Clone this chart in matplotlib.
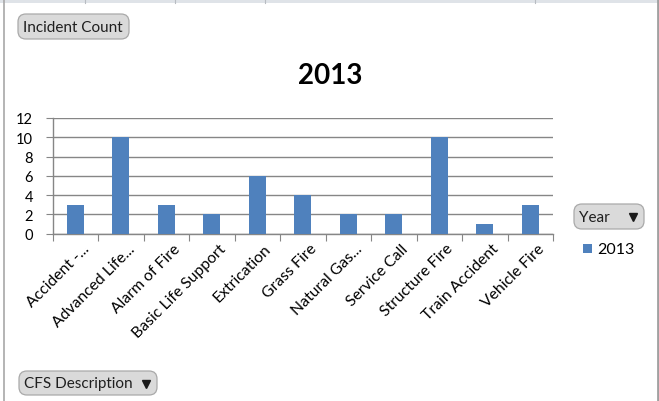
import matplotlib
matplotlib.use("Agg")
import matplotlib.pyplot as plt
from matplotlib.patches import Rectangle, FancyBboxPatch
from matplotlib.lines import Line2D

categories = ["Accident -...", "Advanced Life...", "Alarm of Fire", "Basic Life Support",
              "Extrication", "Grass Fire", "Natural Gas...", "Service Call",
              "Structure Fire", "Train Accident", "Vehicle Fire"]
counts_2013 = [3, 10, 3, 2, 6, 4, 2, 2, 10, 1, 3]
yticks = [0, 2, 4, 6, 8, 10, 12]
series_name = "2013"

W, H = 659, 402
plt.rcParams['font.family'] = ['Lato', 'DejaVu Sans']
fig = plt.figure(figsize=(W / 100, H / 100), dpi=100)
fig.patch.set_facecolor("white")

def px(x, y):
    return x / W, 1 - y / H

# spreadsheet edges
fig.add_artist(Rectangle((0, 1 - 4 / H), 1, 4 / H, transform=fig.transFigure,
                         facecolor="#dfe3e8", edgecolor="none"))
for xx in [85, 175, 265, 535]:
    fig.add_artist(Line2D([xx / W, xx / W], [1 - 4 / H, 1], transform=fig.transFigure,
                          color="#b8bcc2", lw=0.8))
fig.add_artist(Line2D([3.5 / W, 3.5 / W], [0, 1], transform=fig.transFigure, color="#a8a8a8", lw=1.2))
fig.add_artist(Line2D([657.5 / W, 657.5 / W], [0, 1], transform=fig.transFigure, color="#a0a0a0", lw=2))

left, right, top, bottom = 52.5, 553, 119, 234.5
ax = fig.add_axes([left / W, 1 - bottom / H, (right - left) / W, (bottom - top) / H])
n = len(categories)
xs = list(range(n))
ax.bar(xs, counts_2013, width=0.38, color="#4f81bd", zorder=3)
ax.set_xlim(-0.5, n - 0.5)
ax.set_ylim(0, 12)
ax.set_yticks(yticks)
ax.set_yticklabels([str(v) for v in yticks], fontsize=10.5, color="#000000")
ax.grid(axis="y", color="#868686", lw=1, zorder=0)
for s in ["top", "right"]:
    ax.spines[s].set_visible(False)
for s in ["left", "bottom"]:
    ax.spines[s].set_color("#868686")
    ax.spines[s].set_linewidth(1)
ax.tick_params(axis="y", length=5, color="#868686", pad=9)
ax.set_xticks([i - 0.5 for i in range(n + 1)])
ax.set_xticklabels([])
ax.tick_params(axis="x", length=5, color="#868686")
for i, c in enumerate(categories):
    ax.text(i + 0.15, -0.8, c, rotation=45, ha="right", va="top", rotation_mode="anchor",
            fontsize=11.3, color="#000000", transform=ax.transData)

fig.text(*px(330, 76), "2013", ha="center", va="center", fontsize=20, fontweight="bold",
         color="#000000")

def button(x0, y0, x1, y1, label, arrow=False):
    bx, by = px(x0, y1)
    p = FancyBboxPatch((bx, by), (x1 - x0) / W, (y1 - y0) / H,
                       boxstyle="round,pad=0,rounding_size=0.012",
                       transform=fig.transFigure, facecolor="#dadada",
                       edgecolor="#a9a9a9", lw=0.9, mutation_aspect=W / H)
    fig.add_artist(p)
    fig.text(*px(x0 + 5, (y0 + y1) / 2 + 0.5), label, ha="left", va="center",
             fontsize=11, color="#1f1f1f")
    if arrow:
        fig.add_artist(Line2D([(x1 - 11) / W], [1 - ((y0 + y1) / 2 + 0.5) / H],
                              transform=fig.transFigure, marker="v", markersize=5.5,
                              color="#1a1a1a", linestyle="none"))

button(18, 15, 129, 40, "Incident Count")
button(19, 372, 157, 396, "CFS Description", arrow=True)
button(574, 205, 644, 230, "Year", arrow=True)

fig.add_artist(Rectangle(px(583, 254), 9 / W, 9 / H, transform=fig.transFigure,
                         facecolor="#4f81bd", edgecolor="none"))
fig.text(*px(597, 250), series_name, ha="left", va="center", fontsize=11.5, color="#000000")

fig.savefig("out.png", dpi=100, facecolor="white")
